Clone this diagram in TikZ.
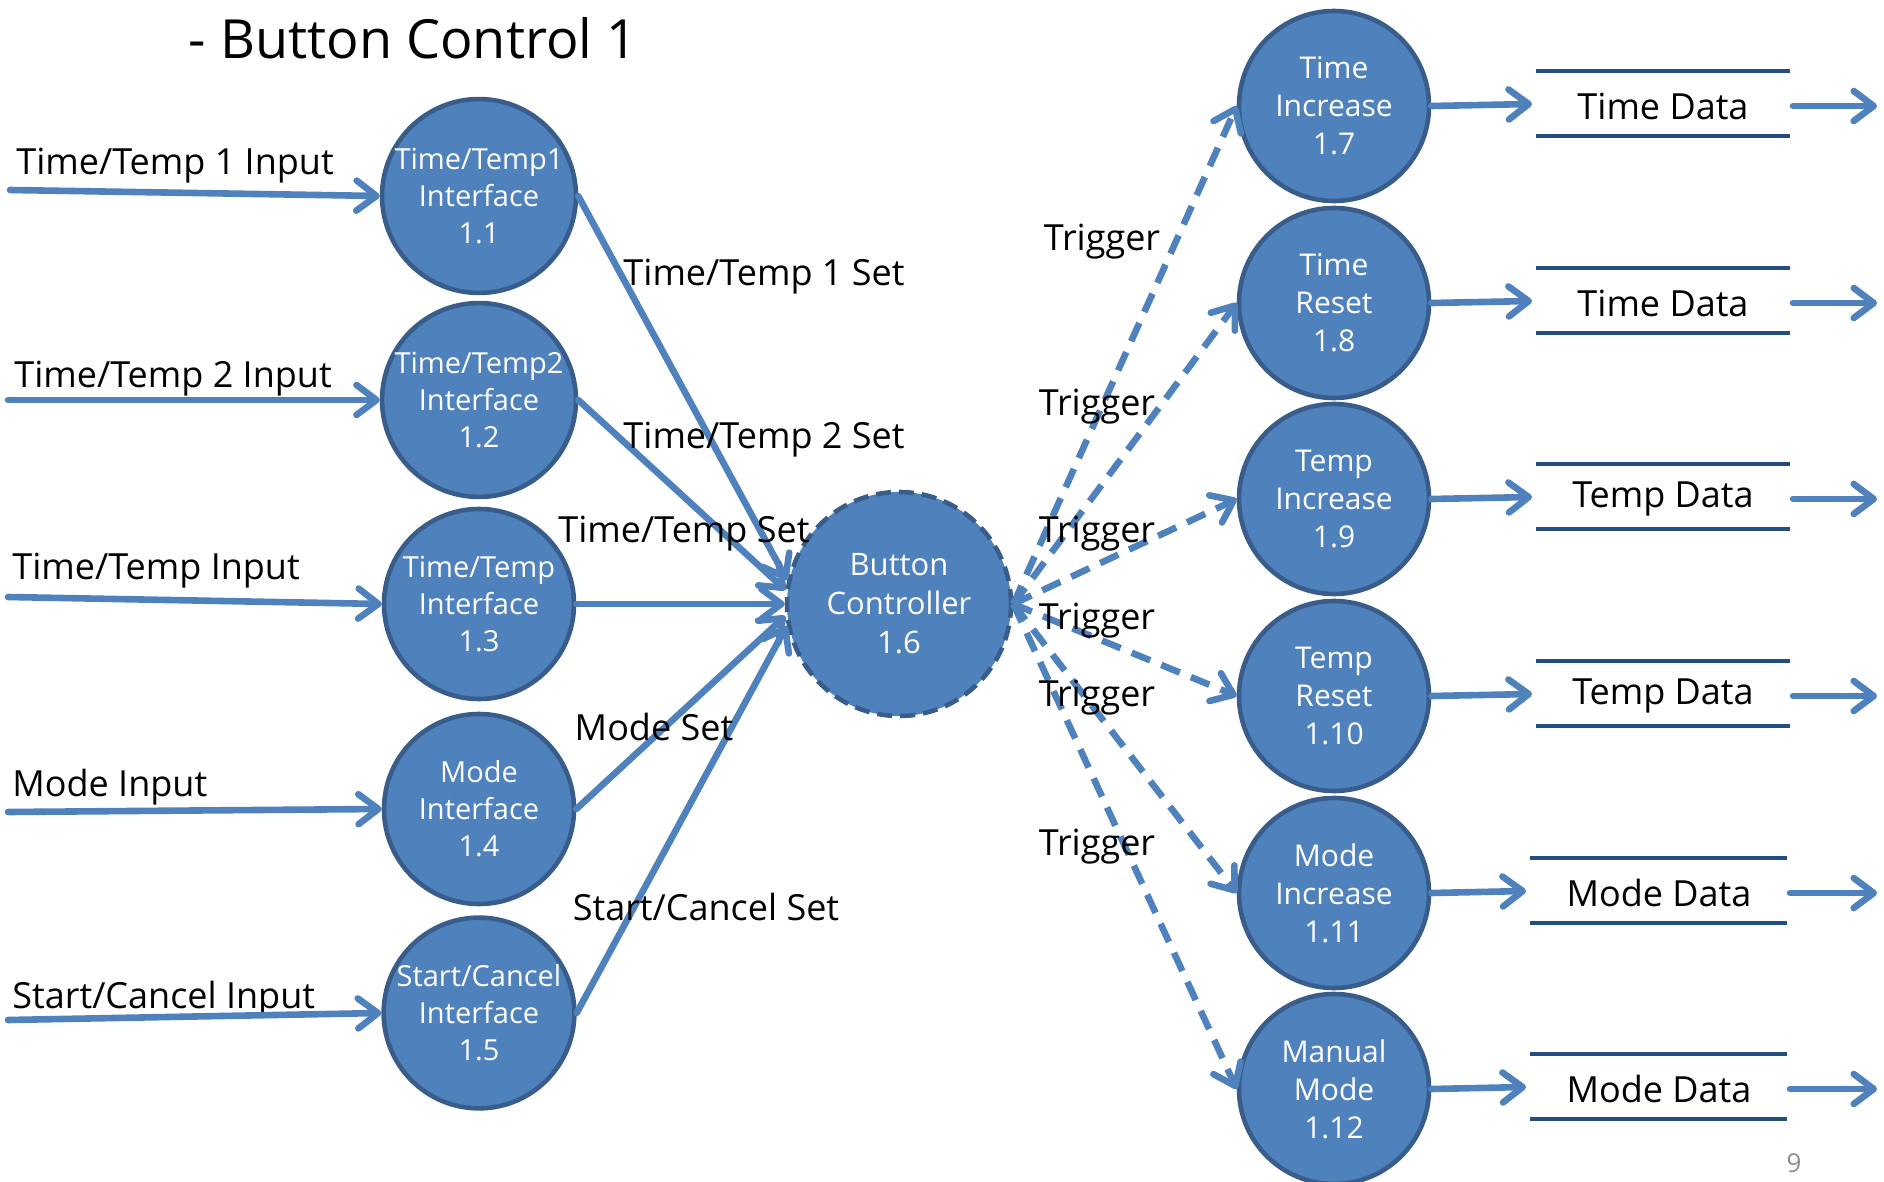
\documentclass[tikz,border=0pt]{standalone}
\usepackage{fontspec}
\setmainfont{Open Sans}
\usetikzlibrary{arrows.meta}
\definecolor{fillblue}{HTML}{4F81BD}
\definecolor{edgeblue}{HTML}{385D8A}
\definecolor{linkblue}{HTML}{4F81BD}
\definecolor{storeblue}{HTML}{254E80}
\begin{document}
\begin{tikzpicture}[x=0.5pt,y=-0.5pt,
  proc/.style={circle, fill=fillblue, draw=edgeblue, line width=2.3pt, minimum size=95pt, inner sep=0pt, text=white, align=center, font=\fontsize{15}{19}\selectfont},
  procl/.style={proc, font=\fontsize{14.5}{18.5}\selectfont},
  ctrlbox/.style={proc, minimum size=112pt, dash pattern=on 7.5pt off 4pt, font=\fontsize{15.5}{19.5}\selectfont},
  lbl/.style={font=\fontsize{18}{21}\selectfont, inner sep=0pt, text=black},
  flow/.style={draw=linkblue, line width=3.3pt, line cap=round, -{Straight Barb[length=10pt,width=15pt,line cap=round,line join=round]}},
  trig/.style={flow, line cap=butt, dash pattern=on 10pt off 6pt},
  storeline/.style={draw=storeblue, line width=2.2pt}
]
\useasboundingbox (0,0) rectangle (1884,1182);

% title
\node[font=\fontsize{27}{31}\selectfont, inner sep=0pt] (title) at (413,38) {- Button Control 1};

% left processes
\node[procl] (n11) at (479,196) {Time/Temp1\\Interface\\1.1};
\node[procl] (n12) at (479,400) {Time/Temp2\\Interface\\1.2};
\node[procl] (n13) at (479,604) {Time/Temp\\Interface\\1.3};
\node[procl] (n14) at (479,809) {Mode\\Interface\\1.4};
\node[procl] (n15) at (479,1013) {Start/Cancel\\Interface\\1.5};

% controller
\node[ctrlbox] (ctrl) at (899,604) {Button\\Controller\\1.6};

% right processes
\node[proc] (n17) at (1334,106) {Time\\Increase\\1.7};
\node[proc] (n18) at (1334,303) {Time\\Reset\\1.8};
\node[proc] (n19) at (1334,499) {Temp\\Increase\\1.9};
\node[proc] (n110) at (1334,696) {Temp\\Reset\\1.10};
\node[proc] (n111) at (1334,893) {Mode\\Increase\\1.11};
\node[proc] (n112) at (1334,1089) {Manual\\Mode\\1.12};

% inputs
\coordinate (i1) at (10,190);
\coordinate (i2) at (8,400);
\coordinate (i3) at (8,597);
\coordinate (i4) at (8,812);
\coordinate (i5) at (8,1020);
\node[lbl, anchor=west] (l1) at (16,166) {Time/Temp 1 Input};
\node[lbl, anchor=west] (l2) at (14,379) {Time/Temp 2 Input};
\node[lbl, anchor=west] (l3) at (12,571) {Time/Temp Input};
\node[lbl, anchor=west] (l4) at (12,787) {Mode Input};
\node[lbl, anchor=west] (l5) at (12,999) {Start/Cancel Input};
\draw[flow] (i1) -- (n11.west);
\draw[flow] (i2) -- (n12.west);
\draw[flow] (i3) -- (n13.west);
\draw[flow] (i4) -- (n14.west);
\draw[flow] (i5) -- (n15.west);

% to controller
\draw[flow] (n11.east) -- (ctrl.168);
\draw[flow] (n12.east) -- (ctrl.173);
\draw[flow] (n13.east) -- (ctrl.west);
\draw[flow] (n14.east) -- (ctrl.186);
\draw[flow] (n15.east) -- (ctrl.191);
\node[lbl] (s1) at (764,277) {Time/Temp 1 Set};
\node[lbl] (s2) at (764,440) {Time/Temp 2 Set};
\node[lbl] (s3) at (684,534) {Time/Temp Set};
\node[lbl] (s4) at (654,727) {Mode Set};
\node[lbl] (s5) at (706,907) {Start/Cancel Set};

% triggers
\draw[trig] (ctrl.east) -- (n17.west);
\draw[trig] (ctrl.east) -- (n18.west);
\draw[trig] (ctrl.east) -- (n19.west);
\draw[trig] (ctrl.east) -- (n110.west);
\draw[trig] (ctrl.east) -- (n111.west);
\draw[trig] (ctrl.east) -- (n112.west);
\node[lbl] (t1) at (1102,242) {Trigger};
\node[lbl] (t2) at (1097,407) {Trigger};
\node[lbl] (t3) at (1097,534) {Trigger};
\node[lbl] (t4) at (1097,621) {Trigger};
\node[lbl] (t5) at (1097,698) {Trigger};
\node[lbl] (t6) at (1097,847) {Trigger};

% data stores
\foreach \n/\y/\t/\xa/\xb/\xc in {17/106/Time Data/1536/1790/1663, 18/303/Time Data/1536/1790/1663, 19/499/Temp Data/1536/1790/1663, 110/696/Temp Data/1536/1790/1663, 111/893/Mode Data/1530/1787/1659, 112/1089/Mode Data/1530/1787/1659}{
  \draw[storeline] (\xa,\y-35) -- (\xb,\y-35);
  \draw[storeline] (\xa,\y+30) -- (\xb,\y+30);
  \node[lbl] (d\n) at (\xc,\y) {\t};
  \coordinate (dw\n) at (\xa-4,\y-2);
  \coordinate (oa\n) at (\xb+3,\y);
  \coordinate (ob\n) at (1877,\y);
  \draw[flow] (n\n.east) -- (dw\n);
  \draw[flow] (oa\n) -- (ob\n);
}

% page number
\node[font=\fontsize{13}{15}\selectfont, text=black!45, inner sep=0pt] (pg) at (1794,1163) {9};
\end{tikzpicture}
\end{document}
